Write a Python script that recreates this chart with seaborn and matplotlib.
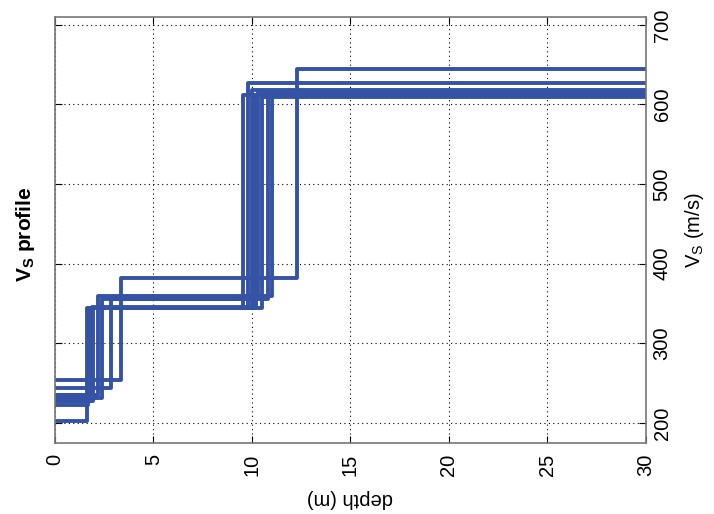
import matplotlib
matplotlib.use("Agg")
import matplotlib.pyplot as plt
import seaborn as sns
import pandas as pd

# layered Vs profiles: layer 1, layer 2, half-space
d1 = [1.64, 3.35, 2.84, 2.20, 1.78, 1.95, 1.70, 2.37, 1.85, 1.90]
d2 = [9.57, 12.27, 10.83, 11.00, 9.82, 10.10, 10.50, 10.30, 10.00, 10.20]
v1 = [202, 254, 244, 235, 231, 227, 222, 231, 227, 235]
v2 = [344, 382, 355, 359, 344, 344, 344, 355, 344, 346]
v3 = [612, 645, 616, 616, 627, 612, 610, 616, 618, 612]
max_depth = 30

rows = []
for i in range(len(d1)):
    xs = [0, d1[i], d1[i], d2[i], d2[i], max_depth]
    ys = [v1[i], v1[i], v2[i], v2[i], v3[i], v3[i]]
    for k, (x, y) in enumerate(zip(xs, ys)):
        rows.append({"profile": i, "order": k, "depth": x, "vs": y})
df = pd.DataFrame(rows)

sns.set_style("white")
plt.rcParams["font.family"] = ["Liberation Sans", "DejaVu Sans"]
plt.rcParams["mathtext.default"] = "regular"
plt.rcParams["text.color"] = "black"
plt.rcParams["axes.labelcolor"] = "black"
plt.rcParams["xtick.color"] = "black"
plt.rcParams["ytick.color"] = "black"

fig = plt.figure(figsize=(7.14, 5.14), dpi=100)
ax = fig.add_axes([0.077, 0.1387, 0.8273, 0.8283])

sns.lineplot(data=df, x="depth", y="vs", units="profile", estimator=None,
             sort=False, color="#3553a5", linewidth=2.8, ax=ax)

ax.set_xlim(0, 30)
ax.set_ylim(175, 710)
ax.set_xticks([0, 5, 10, 15, 20, 25, 30])
ax.set_yticks([200, 300, 400, 500, 600, 700])
ax.grid(True, color="black", linestyle=(0, (1, 3)), linewidth=0.8)

ax.tick_params(direction="in", length=5, labelsize=14.5,
               left=True, right=True, top=True, bottom=True,
               labelleft=False, labelright=True)
ax.tick_params(axis="x", pad=8)
ax.tick_params(axis="y", pad=5)
for lab in ax.get_xticklabels():
    lab.set_rotation(90)
for lab in ax.get_yticklabels():
    lab.set_rotation(90)
    lab.set_va("center")

for sp in ax.spines.values():
    sp.set_color("#777777")
    sp.set_linewidth(1.2)

ax.set_xlabel("depth (m)", fontsize=14.5, rotation=180, labelpad=9)
ax.yaxis.set_label_position("right")
ax.set_ylabel("V$_S$ (m/s)", fontsize=14.5, rotation=90, labelpad=8)

fig.text(0.036, 0.545, "V$_S$ profile", rotation=90, fontsize=15,
         fontweight="bold", ha="center", va="center")

fig.savefig("out.png", dpi=100)
